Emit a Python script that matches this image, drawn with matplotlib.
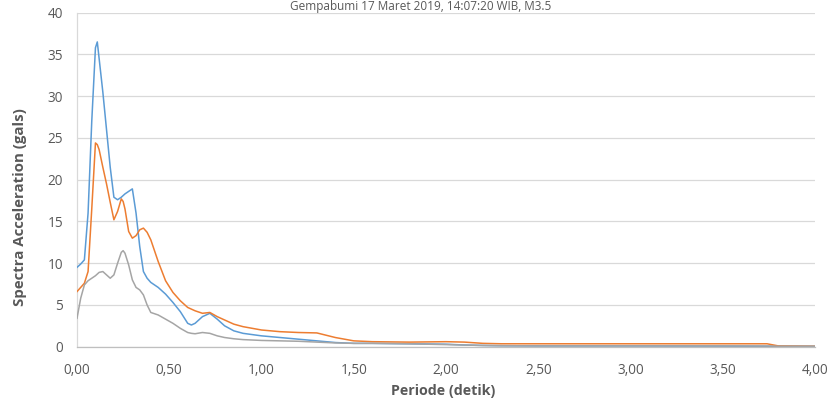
import matplotlib
matplotlib.use("Agg")
import matplotlib.pyplot as plt

periods = [0.00, 0.02, 0.04, 0.06, 0.08, 0.10, 0.11, 0.12, 0.14, 0.16, 0.18, 0.20,
           0.22, 0.24, 0.25, 0.26, 0.28, 0.30, 0.32, 0.34, 0.36, 0.38, 0.40, 0.44,
           0.48, 0.52, 0.56, 0.60, 0.62, 0.64, 0.68, 0.72, 0.76, 0.80, 0.85, 0.90,
           1.00, 1.10, 1.20, 1.30, 1.40, 1.50, 1.60, 1.80, 2.00, 2.10, 2.20, 2.30,
           2.50, 3.00, 3.50, 3.74, 3.80, 4.00]

sa_blue = [9.5, 9.9, 10.4, 16.0, 27.0, 35.8, 36.5, 34.5, 30.5, 26.0, 21.5, 17.9,
           17.6, 17.9, 18.1, 18.3, 18.6, 18.9, 16.0, 12.0, 9.0, 8.2, 7.7, 7.1,
           6.3, 5.3, 4.2, 2.8, 2.6, 2.8, 3.6, 4.0, 3.3, 2.5, 1.9, 1.6,
           1.3, 1.1, 0.9, 0.7, 0.5, 0.4, 0.4, 0.35, 0.3, 0.2, 0.15, 0.12,
           0.1, 0.1, 0.08, 0.06, 0.05, 0.05]

sa_orange = [6.6, 7.1, 7.6, 9.0, 16.5, 24.4, 24.2, 23.6, 21.5, 19.5, 17.3, 15.2,
             16.2, 17.7, 17.4, 16.5, 13.8, 13.0, 13.3, 14.0, 14.2, 13.7, 12.8, 10.2,
             7.9, 6.5, 5.5, 4.7, 4.5, 4.3, 4.0, 4.1, 3.6, 3.2, 2.7, 2.4,
             2.0, 1.8, 1.7, 1.65, 1.1, 0.7, 0.6, 0.55, 0.6, 0.55, 0.4, 0.35,
             0.35, 0.35, 0.35, 0.35, 0.1, 0.05]

sa_gray = [3.4, 5.8, 7.4, 7.9, 8.2, 8.5, 8.7, 8.9, 9.0, 8.6, 8.2, 8.6,
           10.0, 11.3, 11.5, 11.2, 9.8, 8.0, 7.1, 6.8, 6.2, 5.0, 4.1, 3.8,
           3.3, 2.8, 2.2, 1.7, 1.6, 1.55, 1.7, 1.6, 1.3, 1.1, 0.95, 0.85,
           0.75, 0.7, 0.65, 0.55, 0.45, 0.4, 0.4, 0.35, 0.25, 0.2, 0.15, 0.12,
           0.1, 0.1, 0.1, 0.08, 0.06, 0.05]

x_ticks = [0, 0.5, 1.0, 1.5, 2.0, 2.5, 3.0, 3.5, 4.0]
x_tick_labels = ["0,00", "0,50", "1,00", "1,50", "2,00", "2,50", "3,00", "3,50", "4,00"]
y_ticks = [0, 5, 10, 15, 20, 25, 30, 35, 40]

title = "Gempabumi 17 Maret 2019, 14:07:20 WIB, M3.5"

plt.rcParams['font.family'] = ['Open Sans', 'DejaVu Sans']

W, H = 839, 403
fig = plt.figure(figsize=(W / 100, H / 100), dpi=100)
ax = fig.add_axes([77 / W, 56.3 / H, (815 - 77) / W, (346.7 - 12.7) / H])

ax.plot(periods, sa_blue, color="#5B9BD5", lw=1.1, zorder=3)
ax.plot(periods, sa_orange, color="#ED7D31", lw=1.1, zorder=3)
ax.plot(periods, sa_gray, color="#A5A5A5", lw=1.1, zorder=3)

ax.set_xlim(0, 4)
ax.set_ylim(0, 40)
ax.set_xticks(x_ticks)
ax.set_xticklabels(x_tick_labels)
ax.set_yticks(y_ticks)

ax.yaxis.grid(True, color="#D9D9D9", lw=0.9)
ax.set_axisbelow(True)
for s in ["top", "right"]:
    ax.spines[s].set_visible(False)
ax.spines["bottom"].set_color("#BFBFBF")
ax.spines["left"].set_color("#D9D9D9")
ax.spines["bottom"].set_linewidth(0.9)
ax.spines["left"].set_linewidth(0.9)

ax.tick_params(axis="both", length=0, labelsize=9.8, labelcolor="#595959")
ax.tick_params(axis="x", pad=12)
ax.tick_params(axis="y", pad=10)

fig.text(443 / W, 12 / H, "Periode (detik)", ha="center", va="center",
         fontsize=10.3, fontweight="bold", color="#595959")
fig.text(20 / W, 196 / H, "Spectra Acceleration (gals)", ha="center", va="center",
         rotation=90, fontsize=10.8, fontweight="bold", color="#595959")
fig.text(421 / W, 1.0, title, ha="center", va="top",
         fontsize=8.5, color="#595959")

fig.savefig("out.png", dpi=100)
